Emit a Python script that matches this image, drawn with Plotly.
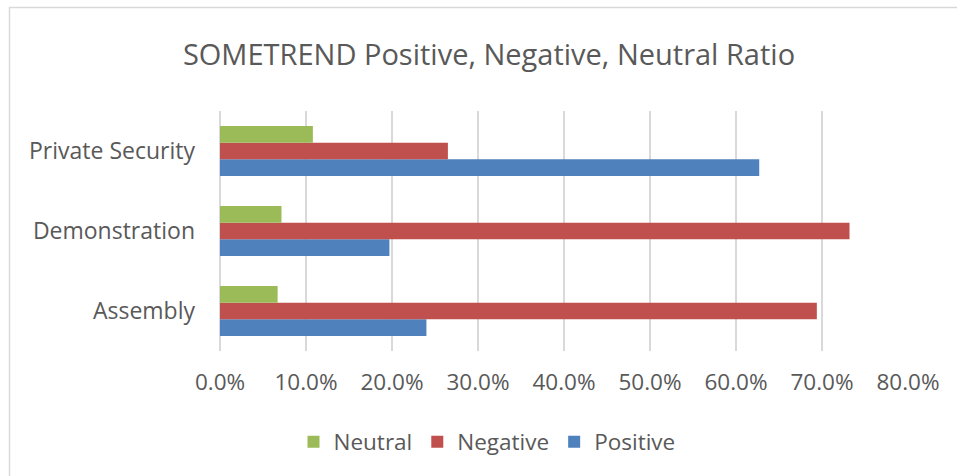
import plotly.graph_objects as go

categories = ["Assembly", "Demonstration", "Private Security"]
positive = [0.240, 0.197, 0.627]
negative = [0.694, 0.732, 0.265]
neutral = [0.067, 0.0715, 0.108]
x_ticks = [0, 0.1, 0.2, 0.3, 0.4, 0.5, 0.6, 0.7, 0.8]

W, H = 957, 476
L, R, T, B = 220, 49, 111, 125
pw, ph = W - L - R, H - T - B

def px(x):
    return (x - L) / pw

def py(y):
    return (H - B - y) / ph

font = "Open Sans"
grey = "#595959"

fig = go.Figure()
for name, vals, col in [("Positive", positive, "#4F81BD"),
                        ("Negative", negative, "#C0504D"),
                        ("Neutral", neutral, "#9BBB59")]:
    fig.add_trace(go.Bar(y=categories, x=vals, name=name, orientation="h",
                         marker=dict(color=col, line=dict(width=0)),
                         hovertemplate="%{y}: %{x:.1%}<extra>" + name + "</extra>"))

fig.update_layout(
    width=W, height=H,
    margin=dict(l=L, r=R, t=T, b=B, autoexpand=False),
    paper_bgcolor="white", plot_bgcolor="white",
    barmode="group", bargap=0.375, bargroupgap=0,
    font=dict(family=font, color=grey, size=22),
    title=dict(text="SOMETREND Positive, Negative, Neutral Ratio",
               x=489 / W, xanchor="center", xref="container",
               y=1 - 55 / H, yanchor="middle",
               font=dict(size=29, color=grey, family=font)),
    xaxis=dict(range=[0, 0.8], tickvals=x_ticks, tickformat=".1%",
               showgrid=True, gridcolor="#D9D9D9", gridwidth=1.5,
               zeroline=True, zerolinecolor="#D9D9D9", zerolinewidth=1.5,
               showline=False, ticks="", ticklabelstandoff=15,
               tickfont=dict(size=22.5, color=grey), fixedrange=True),
    yaxis=dict(categoryorder="array", categoryarray=categories,
               showgrid=False, showline=False, ticks="", ticklabelstandoff=24,
               tickfont=dict(size=23, color=grey), fixedrange=True),
    legend=dict(orientation="h", traceorder="reversed",
                x=px(487), xanchor="center", y=py(442), yanchor="middle",
                font=dict(size=22.5, color=grey), itemwidth=30,
                bgcolor="rgba(0,0,0,0)"),
    showlegend=True,
)

fig.add_shape(type="rect", xref="paper", yref="paper",
              x0=px(9.5), x1=px(W + 5), y0=py(7.5), y1=py(H + 5),
              line=dict(color="#D9D9D9", width=1.5), fillcolor="rgba(0,0,0,0)",
              layer="below")

fig.write_html("out.html", config={"displayModeBar": False},
               post_script="document.body.style.margin='0';document.body.style.overflow='hidden';")
